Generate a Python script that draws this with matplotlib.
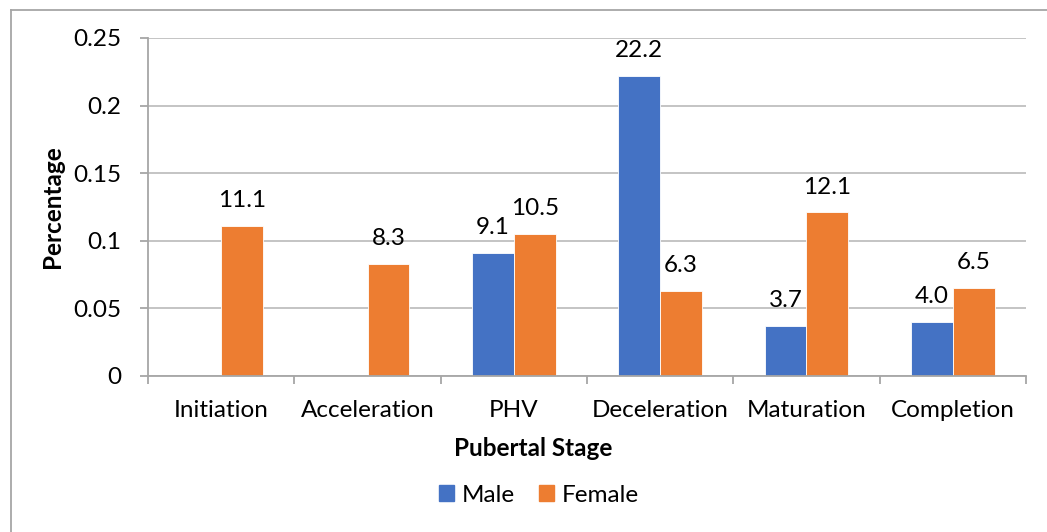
import numpy as np
import matplotlib.pyplot as plt
from matplotlib.lines import Line2D
from matplotlib.patches import Patch

stages = ['Initiation', 'Acceleration', 'PHV', 'Deceleration', 'Maturation', 'Completion']
male = [0.0, 0.0, 0.091, 0.222, 0.037, 0.040]
female = [0.111, 0.083, 0.105, 0.063, 0.121, 0.065]
yticks = [0, 0.05, 0.1, 0.15, 0.2, 0.25]

plt.rcParams['font.family'] = ['Lato', 'DejaVu Sans']
fs = 17.5

W, H = 1047, 532
fig = plt.figure(figsize=(W / 100, H / 100), dpi=100)
ax = fig.add_axes([148 / W, 1 - 376 / H, (1026 - 148) / W, (376 - 38) / H])

x = np.arange(len(stages))
width = 0.287
blue = '#4472C4'
orange = '#ED7D31'
b1 = ax.bar(x - width / 2, male, width, color=blue, edgecolor='white', linewidth=0.6)
b2 = ax.bar(x + width / 2, female, width, color=orange, edgecolor='white', linewidth=0.6)

# data labels (shown as percent), skip empty bars
for bars, vals in [(b1, male), (b2, female)]:
    for rect, v in zip(bars, vals):
        if v <= 0:
            continue
        ax.annotate(f'{v * 100:.1f}', (rect.get_x() + rect.get_width() / 2, v),
                    xytext=(0, 13.5), textcoords='offset points',
                    ha='center', va='baseline', fontsize=fs, color='#000000')

ax.set_xlim(-0.5, len(stages) - 0.5)
ax.set_ylim(0, 0.25)
ax.set_yticks(yticks)
ax.set_yticklabels([f'{t:g}' for t in yticks], fontsize=fs)
ax.set_xticks(x)
ax.set_xticklabels(stages, fontsize=fs)
ax.set_xticks(np.arange(len(stages) + 1) - 0.5, minor=True)

ax.grid(axis='y', color='#BFBFBF', linewidth=1.3)
ax.set_axisbelow(True)
for s in ['top', 'right']:
    ax.spines[s].set_visible(False)
for s in ['left', 'bottom']:
    ax.spines[s].set_color('#A6A6A6')
    ax.spines[s].set_linewidth(1.3)
ax.tick_params(axis='y', length=6, color='#A6A6A6', width=1.3, pad=13)
ax.tick_params(axis='x', which='major', length=0, pad=17)
ax.tick_params(axis='x', which='minor', length=6, color='#A6A6A6', width=1.3)

fig.text(52 / W, 1 - 207 / H, 'Percentage', rotation=90, ha='center', va='center',
         fontsize=fs, fontweight='bold')
fig.text(533 / W, 1 - 449 / H, 'Pubertal Stage', ha='center', va='center',
         fontsize=fs, fontweight='bold')

handles = [Patch(color=blue, label='Male'), Patch(color=orange, label='Female')]
fig.legend(handles=handles, loc='center', bbox_to_anchor=(539 / W, 1 - 495 / H),
           ncol=2, frameon=False, fontsize=fs, handlelength=0.62, handleheight=0.62,
           handletextpad=0.3, columnspacing=1.0)

# outer chart frame (left and top edges visible)
fig.add_artist(Line2D([11 / W, 11 / W], [0, 1 - 10 / H], color='#A6A6A6', linewidth=1.3))
fig.add_artist(Line2D([11 / W, 1], [1 - 10 / H, 1 - 10 / H], color='#A6A6A6', linewidth=1.3))

fig.savefig('out.png', dpi=100)
